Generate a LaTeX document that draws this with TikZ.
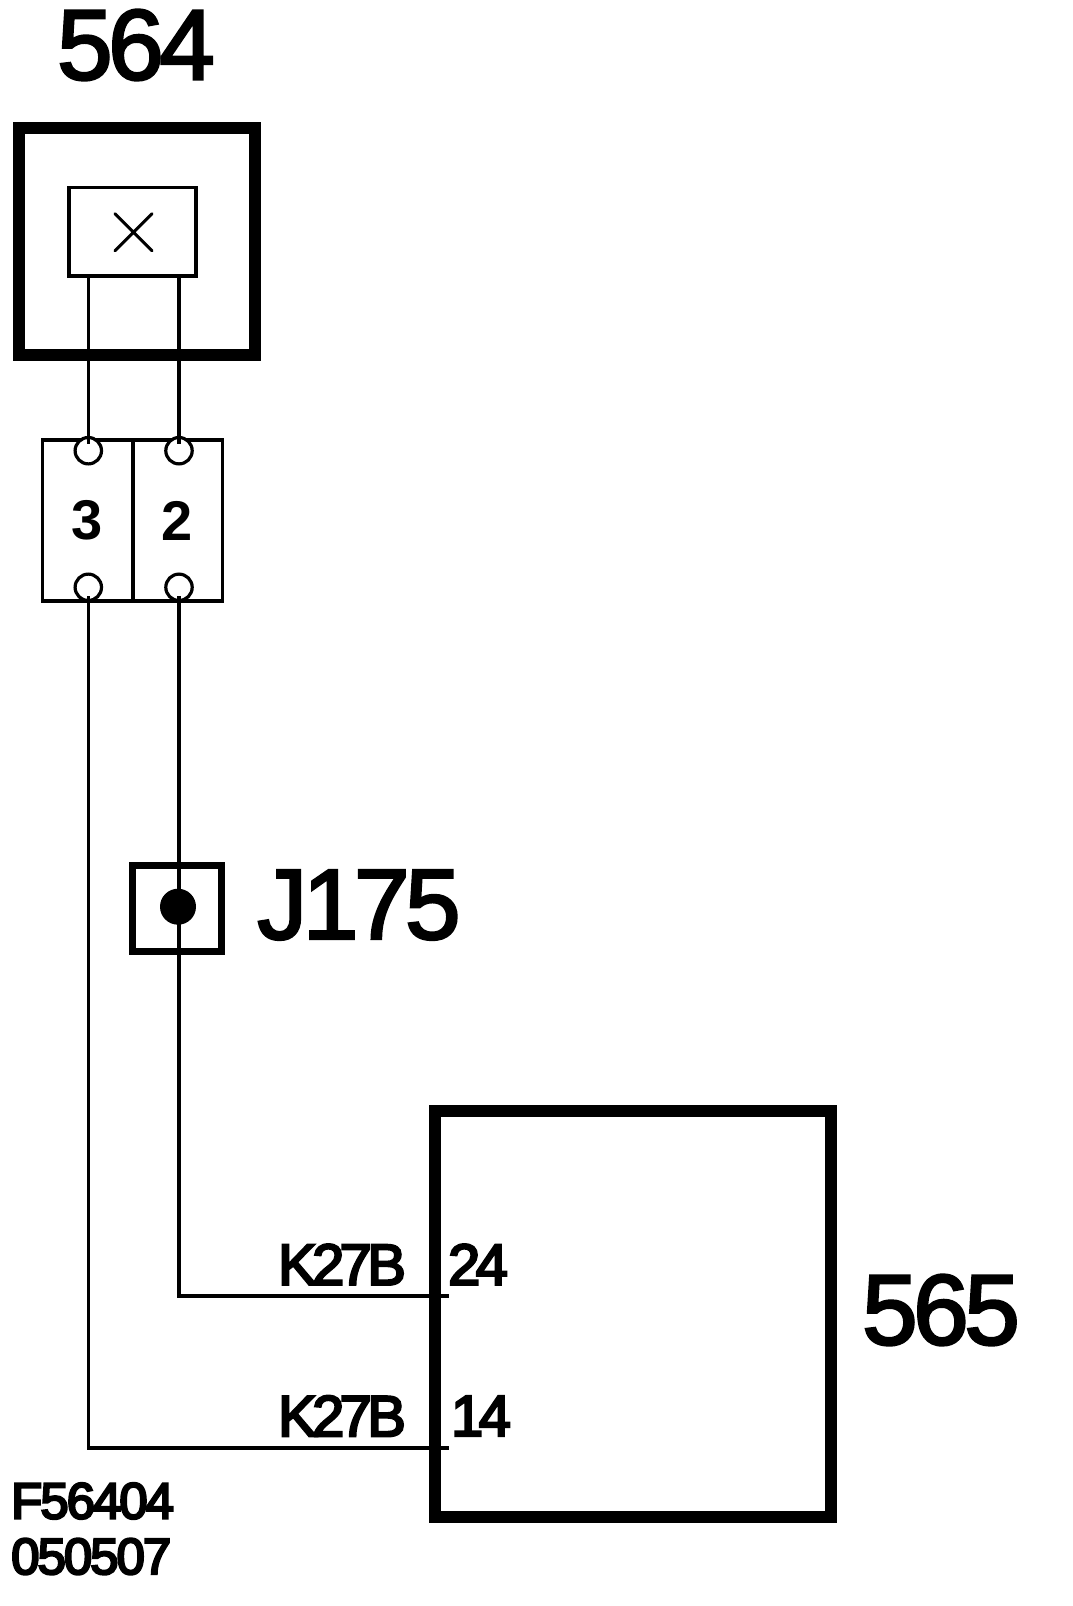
\documentclass[tikz,border=0pt]{standalone}
\usepackage{fontspec}
\setmainfont{Liberation Sans}
\newfontfamily\bigface[LetterSpace=-4.5,FakeBold=2.5]{Liberation Sans}
\newfontfamily\midface[LetterSpace=-8,FakeBold=4]{Liberation Sans}
\newfontfamily\refface[LetterSpace=-4,FakeBold=4.5]{Liberation Sans}
\usetikzlibrary{shapes.misc,positioning}

\begin{document}
\begin{tikzpicture}[x=1pt,y=-1pt]
	\tikzstyle{Module}	= [draw, line width=12pt, inner sep=0pt]
	\tikzstyle{Cell}	= [draw, line width=3.6pt, inner sep=0pt, minimum height=161pt, font=\bfseries\fontsize{56}{56}\selectfont]
	\tikzstyle{Pin}		= [circle, draw, line width=3.2pt, fill=white, minimum size=26.4pt, inner sep=0pt]
	\tikzstyle{Wire}	= [line width=3.6pt]
	\tikzstyle{Big}		= [inner sep=0pt, font=\bigface\fontsize{100}{100}\selectfont]
	\tikzstyle{Small}	= [inner sep=0pt, font=\midface\fontsize{58}{58}\selectfont]
	\tikzstyle{Ref}		= [inner sep=0pt, anchor=west, font=\refface\fontsize{51}{51}\selectfont]

	\useasboundingbox (0,0) rectangle (1072,1606);

	\node (name564) at (136,45) [Big] {564};
	\node (box564) at (137.2,241.3) [Module, minimum width=235.7pt, minimum height=226.7pt] {};
	\node (lamp) at (132.5,231.8) [draw, line width=3.6pt, inner sep=0pt, minimum width=127.4pt, minimum height=88.7pt] {};
	\node (cross) at (133.5,232.2) [cross out, draw, line width=3pt, line cap=round, inner sep=0pt, minimum size=34pt] {};

	\node (cell3) at (87.5,520.5) [Cell, minimum width=90.4pt] {3};
	\node (cell2) at (177.5,520.5) [Cell, minimum width=89.7pt] {2};
	\node (pin3a) at (88.3,450.7) [Pin] {};
	\node (pin2a) at (179,450.7) [Pin] {};
	\node (pin3b) at (88.3,587.3) [Pin] {};
	\node (pin2b) at (179,587.3) [Pin] {};

	\node (j175) at (177,908.5) [draw, line width=6.7pt, inner sep=0pt, minimum width=89.3pt, minimum height=86.3pt] {};
	\node (dot) at (178,906.7) [circle, fill=black, minimum size=36pt, inner sep=0pt] {};
	\node (name175) at (359,905) [Big] {J175};

	\node (box565) at (633,1313.5) [Module, minimum width=396.5pt, minimum height=406pt] {};
	\node (name565) at (941,1310) [Big] {565};

	\node (k24) at (342,1264.5) [Small] {K27B};
	\node (k14) at (342,1416) [Small] {K27B};
	\node (t24) at (478,1264.5) [Small] {24};
	\node (t14) at (481,1416) [Small] {14};

	\node (code) at (11,1501) [Ref] {F56404};
	\node (date) at (11,1556.5) [Ref] {050507};

	\coordinate (lamp3) at (88.3,274);
	\coordinate (lamp2) at (179,274);
	\coordinate (top3) at (88.3,444);
	\coordinate (top2) at (179,444);
	\coordinate (bot3) at (88.3,596);
	\coordinate (bot2) at (179,596);
	\coordinate (bend3) at (88.3,1447.7);
	\coordinate (bend2) at (179,1295.7);
	\coordinate (end3) at (449,1447.7);
	\coordinate (end2) at (449,1295.7);

	\draw [Wire] (lamp3) -- (top3);
	\draw [Wire] (lamp2) -- (top2);
	\draw [Wire] (bot3) -- (bend3) -- (end3);
	\draw [Wire] (bot2) -- (bend2) -- (end2);
\end{tikzpicture}
\end{document}
